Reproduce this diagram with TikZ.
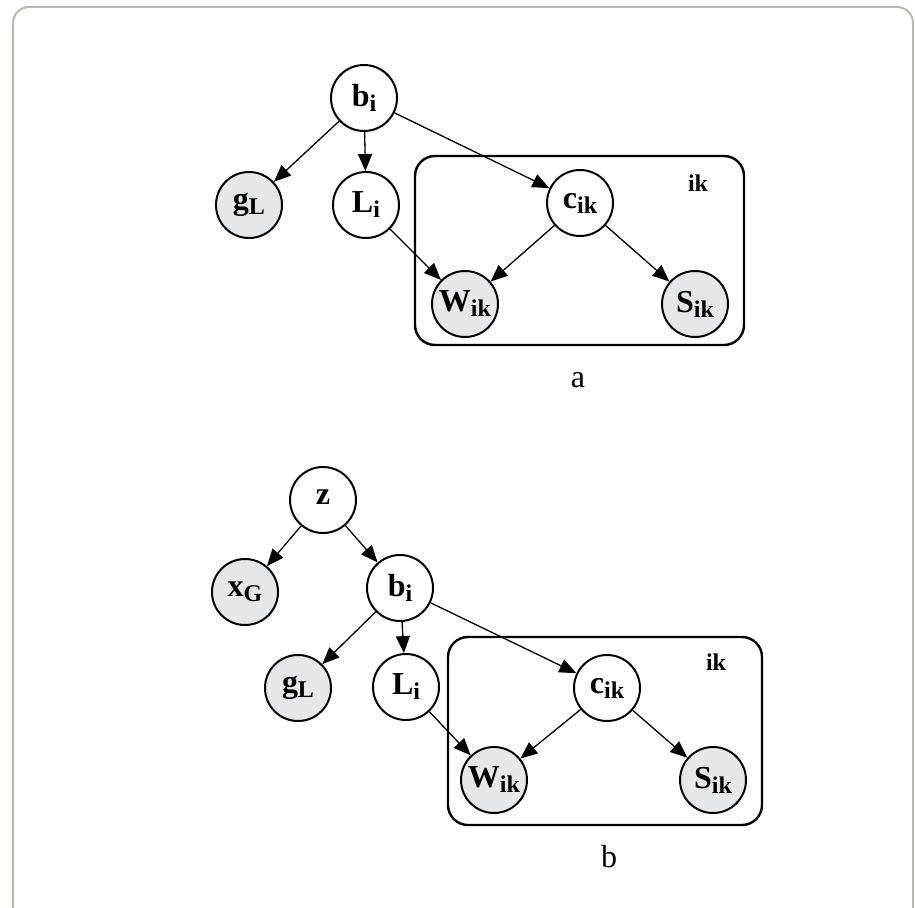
\documentclass[tikz,border=0pt]{standalone}
\usepackage{fontspec}
\setmainfont{Liberation Serif}
\usetikzlibrary{arrows.meta}
\newcommand{\vlab}[2]{{\fontsize{32}{32}\selectfont\bfseries #1}{\fontsize{24}{24}\selectfont\bfseries\raisebox{-5pt}{#2}}}
\definecolor{obsfill}{HTML}{E6E7E8}
\definecolor{framegrey}{HTML}{B9B9B0}
\tikzset{
  var/.style={circle, draw=black, line width=2pt, minimum size=66pt, inner sep=0pt, fill=white},
  obs/.style={var, fill=obsfill},
  plate/.style={draw=black, line width=2.4pt, rounded corners=20pt},
  edge/.style={line width=1.3pt, -{Triangle[length=17pt,width=14pt]}},
  platelab/.style={font=\fontsize{24}{24}\selectfont\bfseries},
  caplab/.style={font=\fontsize{32}{32}\selectfont}
}
\begin{document}
\begin{tikzpicture}[x=1pt,y=-1pt]
\useasboundingbox (0,0) rectangle (915,907);
\draw[framegrey, line width=2pt, rounded corners=16pt] (13,960) -- (13,7) -- (913,7) -- (913,960);
% ---- diagram a ----
\draw[plate] (415,156) rectangle (744,345);
\node[platelab] (ika) at (698,183) {ik};
\node[var] (ba) at (364,98) {\vlab{b}{i}};
\node[obs] (gla) at (249,205) {\vlab{g}{L}};
\node[var] (lia) at (366,205) {\vlab{L}{i}};
\node[var] (cika) at (580,203) {\vlab{c}{ik}};
\node[obs] (wika) at (465,304) {\vlab{W}{ik}};
\node[obs] (sika) at (695,304) {\vlab{S}{ik}};
\draw[edge] (ba) -- (gla);
\draw[edge] (ba) -- (lia);
\draw[edge] (ba) -- (cika);
\draw[edge] (lia) -- (wika);
\draw[edge] (cika) -- (wika);
\draw[edge] (cika) -- (sika);
\node[caplab] (capa) at (578,380) {a};
% ---- diagram b ----
\draw[plate] (448,637) rectangle (762,825);
\node[platelab] (ikb) at (716,662) {ik};
\node[var] (z) at (323,500) {\vlab{z}{}};
\node[obs] (xg) at (245,592) {\vlab{x}{G}};
\node[var] (bb) at (400,588) {\vlab{b}{i}};
\node[obs] (glb) at (298,688) {\vlab{g}{L}};
\node[var] (lib) at (406,687) {\vlab{L}{i}};
\node[var] (cikb) at (607,688) {\vlab{c}{ik}};
\node[obs] (wikb) at (494,780) {\vlab{W}{ik}};
\node[obs] (sikb) at (713,780) {\vlab{S}{ik}};
\draw[edge] (z) -- (xg);
\draw[edge] (z) -- (bb);
\draw[edge] (bb) -- (glb);
\draw[edge] (bb) -- (lib);
\draw[edge] (bb) -- (cikb);
\draw[edge] (lib) -- (wikb);
\draw[edge] (cikb) -- (wikb);
\draw[edge] (cikb) -- (sikb);
\node[caplab] (capb) at (609,857) {b};
\end{tikzpicture}
\end{document}
